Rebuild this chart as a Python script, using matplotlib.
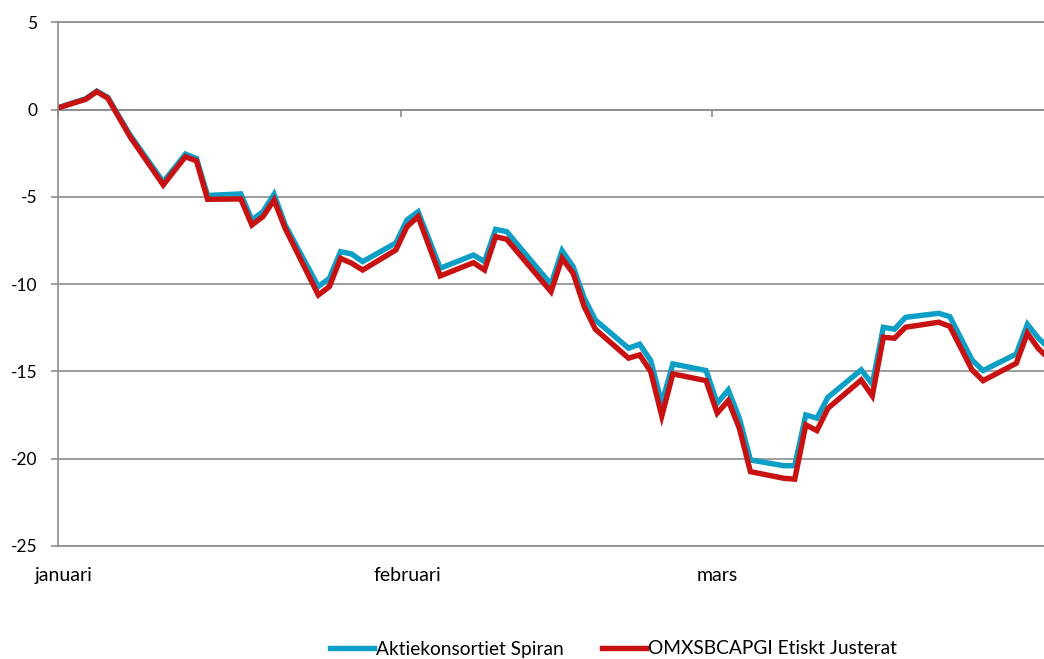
import pandas as pd
import matplotlib
matplotlib.use('Agg')
import matplotlib.pyplot as plt

plt.rcParams['font.family'] = ['Lato', 'DejaVu Sans']
plt.rcParams['axes.unicode_minus'] = False

# Daily values (%), Q1 2009
dates = [
    '2009-01-02', '2009-01-05', '2009-01-06', '2009-01-07', '2009-01-08', '2009-01-09',
    '2009-01-12', '2009-01-13', '2009-01-14', '2009-01-15', '2009-01-16',
    '2009-01-19', '2009-01-20', '2009-01-21', '2009-01-22', '2009-01-23',
    '2009-01-26', '2009-01-27', '2009-01-28', '2009-01-29', '2009-01-30',
    '2009-02-02', '2009-02-03', '2009-02-04', '2009-02-05', '2009-02-06',
    '2009-02-09', '2009-02-10', '2009-02-11', '2009-02-12', '2009-02-13',
    '2009-02-16', '2009-02-17', '2009-02-18', '2009-02-19', '2009-02-20',
    '2009-02-23', '2009-02-24', '2009-02-25', '2009-02-26', '2009-02-27',
    '2009-03-02', '2009-03-03', '2009-03-04', '2009-03-05', '2009-03-06',
    '2009-03-09', '2009-03-10', '2009-03-11', '2009-03-12', '2009-03-13',
    '2009-03-16', '2009-03-17', '2009-03-18', '2009-03-19', '2009-03-20',
    '2009-03-23', '2009-03-24', '2009-03-25', '2009-03-26', '2009-03-27',
    '2009-03-30', '2009-03-31', '2009-04-01', '2009-04-02',
]
spiran = [
    0.00, 0.62, 1.06, 0.70, -0.38, -1.45,
    -4.15, -3.35, -2.55, -2.80, -4.92,
    -4.83, -6.32, -5.85, -4.85, -6.60,
    -10.14, -9.66, -8.14, -8.27, -8.71,
    -7.64, -6.32, -5.85, -7.45, -9.09,
    -8.33, -8.71, -6.86, -6.99, -7.75,
    -10.01, -8.08, -9.00, -10.80, -12.05,
    -13.67, -13.44, -14.38, -16.82, -14.57,
    -14.95, -16.82, -16.06, -17.68, -20.07,
    -20.40, -20.40, -17.49, -17.68, -16.48,
    -14.91, -15.72, -12.47, -12.58, -11.90,
    -11.67, -11.86, -13.10, -14.34, -14.95,
    -14.00, -12.30, -13.10, -13.70,
]
omx_etisk = [
    0.00, 0.59, 1.03, 0.65, -0.45, -1.55,
    -4.32, -3.50, -2.70, -2.94, -5.14,
    -5.12, -6.61, -6.13, -5.18, -6.80,
    -10.62, -10.14, -8.52, -8.80, -9.19,
    -8.04, -6.71, -6.13, -7.83, -9.53,
    -8.77, -9.19, -7.28, -7.43, -8.18,
    -10.43, -8.52, -9.38, -11.29, -12.58,
    -14.24, -14.05, -15.01, -17.55, -15.14,
    -15.53, -17.39, -16.67, -18.25, -20.74,
    -21.12, -21.17, -18.06, -18.39, -17.11,
    -15.49, -16.40, -13.04, -13.10, -12.47,
    -12.18, -12.42, -13.66, -14.91, -15.53,
    -14.53, -12.81, -13.70, -14.30,
]
series_names = ['Aktiekonsortiet Spiran', 'OMXSBCAPGI Etiskt Justerat']
month_labels = ['januari', 'februari', 'mars']
month_starts = ['2009-01-02', '2009-02-02', '2009-03-02']

BLUE = '#0e9fc6'
RED = '#c81212'
GRID = '#8c8c8c'

x = pd.to_datetime(dates)
half_day = pd.Timedelta(hours=12)
tick_pos = pd.to_datetime(month_starts) + half_day
label_pos = pd.to_datetime(month_starts) + 2 * half_day

fig = plt.figure(figsize=(10.44, 6.59), dpi=100)
ax = fig.add_axes([58 / 1044, 1 - 546 / 659, 986 / 1044, (546 - 22.3) / 659])

ax.plot(x, spiran, color=BLUE, lw=3.9, solid_joinstyle='miter', label=series_names[0])
ax.plot(x, omx_etisk, color=RED, lw=3.9, solid_joinstyle='miter', label=series_names[1])

ax.set_ylim(-25, 5)
ax.set_yticks(range(-25, 6, 5))
ax.set_xlim(x[0] + half_day, x[0] + half_day + pd.Timedelta(days=89))
ax.set_xticks(label_pos)
ax.set_xticklabels(month_labels)

ax.yaxis.grid(True, color=GRID, lw=1.2)
ax.set_axisbelow(True)
for side in ['left', 'bottom', 'top']:
    ax.spines[side].set_color(GRID)
    ax.spines[side].set_linewidth(1.2)
ax.spines['right'].set_visible(False)

ax.tick_params(axis='y', length=5, width=1.2, color=GRID, pad=10, labelsize=12.5)
ax.tick_params(axis='x', length=0, pad=15, labelsize=14)

# month tick marks sit on the zero line
sec = ax.secondary_xaxis(25 / 30)
sec.set_xticks(tick_pos)
sec.set_xticklabels(['', '', ''])
sec.xaxis.set_ticks_position('bottom')
sec.tick_params(axis='x', direction='out', length=5, width=1.2, color=GRID)
for s in sec.spines.values():
    s.set_color(GRID)
    s.set_linewidth(1.2)

fig.legend(loc='center', bbox_to_anchor=(613 / 1044, 1 - 649 / 659), ncol=2,
           frameon=False, fontsize=13.8, handlelength=2.3, handletextpad=0.1,
           columnspacing=2.0, borderaxespad=0)

fig.savefig('out.png', dpi=100)
